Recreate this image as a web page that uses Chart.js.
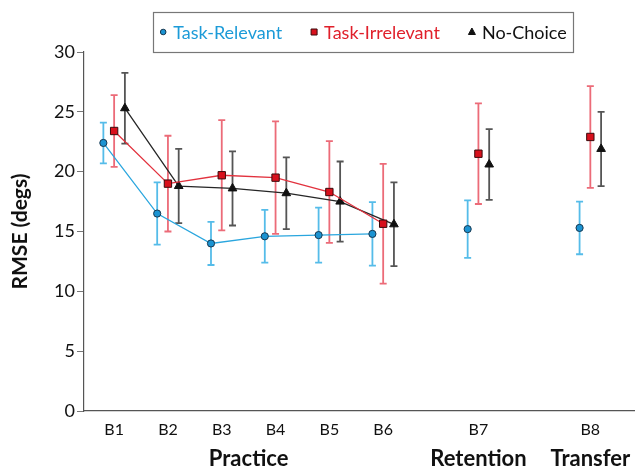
<!DOCTYPE html>
<html>
<head>
<meta charset="utf-8">
<script src="https://cdn.jsdelivr.net/npm/chart.js@4"></script>
<style>
html,body{margin:0;padding:0;background:#fff;}
#wrap{width:635px;height:471px;position:relative;}
</style>
</head>
<body>
<div id="wrap"><canvas id="c" width="635" height="471"></canvas></div>
<script>
// ---- data ----
const categories = ['B1','B2','B3','B4','B5','B6','B7','B8'];
const categoryPositions = [1, 2, 3, 4, 5, 6, 7.77, 9.85];
const phaseLabels = ['Practice', 'Retention', 'Transfer'];
const phaseFirst = [0, 6, 7];
const phaseLast = [5, 6, 7];
const yTicks = [0, 5, 10, 15, 20, 25, 30];

const taskRelevant    = [22.4, 16.5, 14.0, 14.6, 14.7, 14.8, 15.2, 15.3];
const taskRelevantErr = [1.7, 2.6, 1.8, 2.2, 2.3, 2.65, 2.4, 2.2];
const taskIrrelevant    = [23.4, 19.0, 19.7, 19.5, 18.3, 15.65, 21.5, 22.9];
const taskIrrelevantErr = [3.0, 4.0, 4.6, 4.7, 4.25, 5.0, 4.2, 4.25];
const noChoice    = [25.3, 18.8, 18.6, 18.2, 17.5, 15.6, 20.6, 21.9];
const noChoiceErr = [2.95, 3.1, 3.1, 3.0, 3.35, 3.5, 2.95, 3.1];

const seriesNames = ['Task-Relevant', 'Task-Irrelevant', 'No-Choice'];
const connectedCount = 6; // B1..B6 joined by lines

// ---- styles ----
const FONT = 'Lato, "Open Sans", sans-serif';
const styles = [
  {offset:-0.2, line:'#2aa6de', fill:'#1b93d2', edge:'#17374f', err:'#55bce9', text:'#1c9bd8', shape:'circle', r:3.6},
  {offset:0,    line:'#e2323e', fill:'#d8101c', edge:'#3a0a0c', err:'#ec6b78', text:'#e0202b', shape:'rect', r:5.2},
  {offset:0.2,  line:'#262626', fill:'#111111', edge:'#111111', err:'#555555', text:'#111111', shape:'triangle', r:5}
];
const values = [taskRelevant, taskIrrelevant, noChoice];
const errors = [taskRelevantErr, taskIrrelevantErr, noChoiceErr];

const datasets = values.map((vals, s) => ({
  label: seriesNames[s],
  data: vals.map((v, i) => ({x: categoryPositions[i] + styles[s].offset, y: v, err: errors[s][i]})),
  borderColor: styles[s].line,
  borderWidth: 1.3,
  backgroundColor: styles[s].fill,
  pointBackgroundColor: styles[s].fill,
  pointBorderColor: styles[s].edge,
  pointBorderWidth: 1,
  pointStyle: styles[s].shape,
  pointRadius: styles[s].r,
  pointHoverRadius: styles[s].r,
  tension: 0,
  segment: {
    borderColor: ctx => ctx.p0DataIndex >= connectedCount - 1 ? 'rgba(0,0,0,0)' : styles[s].line
  }
}));

const errorBars = {
  id: 'errorBars',
  beforeDatasetsDraw(chart) {
    const ctx = chart.ctx;
    const ys = chart.scales.y;
    chart.data.datasets.forEach((ds, s) => {
      const meta = chart.getDatasetMeta(s);
      ctx.save();
      ctx.strokeStyle = styles[s].err;
      ctx.lineWidth = 1.8;
      meta.data.forEach((pt, i) => {
        const d = ds.data[i];
        const x = pt.x;
        const yt = ys.getPixelForValue(d.y + d.err);
        const yb = ys.getPixelForValue(d.y - d.err);
        ctx.beginPath();
        ctx.moveTo(x, yt); ctx.lineTo(x, yb);
        ctx.moveTo(x - 3.5, yt); ctx.lineTo(x + 3.5, yt);
        ctx.moveTo(x - 3.5, yb); ctx.lineTo(x + 3.5, yb);
        ctx.stroke();
      });
      ctx.restore();
    });
  }
};

const extras = {
  id: 'extras',
  afterDraw(chart) {
    const ctx = chart.ctx;
    const xs = chart.scales.x;
    // phase labels
    ctx.save();
    ctx.fillStyle = '#111';
    ctx.font = 'bold 22px ' + FONT;
    ctx.textAlign = 'center';
    ctx.textBaseline = 'middle';
    phaseLabels.forEach((lab, k) => {
      const x = (xs.getPixelForValue(categoryPositions[phaseFirst[k]]) + xs.getPixelForValue(categoryPositions[phaseLast[k]])) / 2;
      ctx.fillText(lab, x, 459);
    });
    ctx.restore();

    // legend
    ctx.save();
    ctx.font = '18px ' + FONT;
    const widths = seriesNames.map(n => ctx.measureText(n).width);
    const markerW = 8, gapMT = 6, gapItem = 28;
    const total = widths.reduce((a, w) => a + markerW + gapMT + w, 0) + gapItem * (seriesNames.length - 1);
    const boxL = 153, boxR = 573, boxT = 12, boxB = 52;
    ctx.strokeStyle = '#777';
    ctx.lineWidth = 1.2;
    ctx.strokeRect(boxL + 0.5, boxT + 0.5, boxR - boxL, boxB - boxT);
    let x = (boxL + boxR) / 2 - total / 2;
    const yc = 32;
    seriesNames.forEach((n, s) => {
      const cx = x + markerW / 2;
      ctx.fillStyle = styles[s].fill;
      ctx.strokeStyle = styles[s].edge;
      ctx.lineWidth = 1;
      ctx.beginPath();
      if (styles[s].shape === 'circle') {
        ctx.arc(cx, yc, 2.8, 0, Math.PI * 2);
      } else if (styles[s].shape === 'rect') {
        ctx.rect(cx - 3, yc - 3, 6, 6);
      } else {
        ctx.moveTo(cx, yc - 4); ctx.lineTo(cx + 3.5, yc + 2.5); ctx.lineTo(cx - 3.5, yc + 2.5); ctx.closePath();
      }
      ctx.fill(); ctx.stroke();
      ctx.fillStyle = styles[s].text;
      ctx.textAlign = 'left';
      ctx.textBaseline = 'middle';
      ctx.fillText(n, x + markerW + gapMT, yc + 1);
      x += markerW + gapMT + widths[s] + gapItem;
    });
    ctx.restore();
  }
};

new Chart(document.getElementById('c'), {
  type: 'line',
  data: {datasets},
  plugins: [errorBars, extras],
  options: {
    responsive: false,
    animation: false,
    events: [],
    layout: {autoPadding: false, padding: {top: 52, right: 0, left: 8, bottom: 0}},
    plugins: {legend: {display: false}, tooltip: {enabled: false}},
    scales: {
      x: {
        type: 'linear',
        min: 0.44,
        max: 10.68,
        afterBuildTicks: scale => { scale.ticks = categoryPositions.map(v => ({value: v})); },
        afterFit: scale => { scale.height = 60; scale.paddingRight = 0; scale.paddingLeft = 0; },
        ticks: {
          autoSkip: false, maxRotation: 0, padding: 9,
          color: '#111', font: {family: FONT, size: 16},
          callback: (v, i) => categories[i]
        },
        grid: {display: false, drawTicks: false},
        border: {display: true, color: '#555', width: 1.2}
      },
      y: {
        min: 0, max: 30,
        afterBuildTicks: scale => { scale.ticks = yTicks.map(v => ({value: v})); },
        afterFit: scale => { scale.width = 76; },
        ticks: {color: '#111', font: {family: FONT, size: 18}, padding: 2},
        grid: {drawOnChartArea: false, tickLength: 7, color: '#777'},
        border: {display: true, color: '#555', width: 1.2},
        title: {display: true, text: 'RMSE (degs)', color: '#111', font: {family: FONT, size: 21, weight: 'bold'}, padding: {top: 0, bottom: 2}}
      }
    }
  }
});
</script>
</body>
</html>
